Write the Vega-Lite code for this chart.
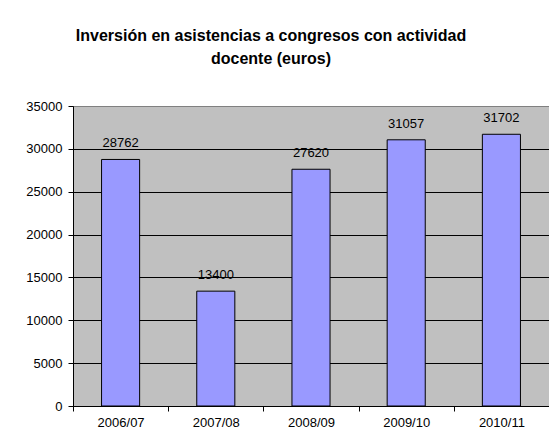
{
  "$schema": "https://vega.github.io/schema/vega-lite/v6.json",
  "autosize": {"type": "none"},
  "width": 476,
  "height": 300,
  "padding": {"left": 73, "top": 106, "right": 0, "bottom": 36},
  "background": "white",
  "title": {
    "text": ["Inversión en asistencias a congresos con actividad", "docente (euros)"],
    "font": "Liberation Sans",
    "fontSize": 16,
    "fontWeight": "bold",
    "color": "black",
    "anchor": "middle",
    "frame": "group",
    "dx": -40,
    "offset": 20,
    "lineHeight": 23,
    "baseline": "alphabetic"
  },
  "config": {
    "view": {"fill": "#C0C0C0", "stroke": "#808080", "strokeWidth": 1},
    "font": "Liberation Sans"
  },
  "data": {
    "values": [
      {"curso": "2006/07", "euros": 28762},
      {"curso": "2007/08", "euros": 13400},
      {"curso": "2008/09", "euros": 27620},
      {"curso": "2009/10", "euros": 31057},
      {"curso": "2010/11", "euros": 31702}
    ]
  },
  "encoding": {
    "x": {
      "field": "curso",
      "type": "nominal",
      "sort": null,
      "scale": {"paddingInner": 0, "paddingOuter": 0},
      "axis": {
        "title": null,
        "labelAngle": 0,
        "labelFont": "Liberation Sans",
        "labelFontSize": 13,
        "labelColor": "black",
        "labelPadding": 5,
        "tickBand": "extent",
        "tickColor": "black",
        "tickSize": 5,
        "domainColor": "black",
        "grid": false
      }
    },
    "y": {
      "field": "euros",
      "type": "quantitative",
      "scale": {"domain": [0, 35000], "nice": false},
      "axis": {
        "title": null,
        "values": [0, 5000, 10000, 15000, 20000, 25000, 30000, 35000],
        "format": "d",
        "labelFont": "Liberation Sans",
        "labelFontSize": 13,
        "labelColor": "black",
        "labelPadding": 6,
        "tickColor": "black",
        "tickSize": 5,
        "domainColor": "black",
        "grid": true,
        "gridColor": {"condition": {"test": "datum.value === 35000", "value": "#808080"}, "value": "black"},
        "gridOpacity": 1
      }
    }
  },
  "layer": [
    {
      "mark": {"type": "bar", "width": {"band": 0.4}, "fill": "#9999FF", "stroke": "black", "strokeWidth": 1}
    },
    {
      "mark": {"type": "text", "dy": -12, "baseline": "alphabetic", "font": "Liberation Sans", "fontSize": 13, "color": "black"},
      "encoding": {"text": {"field": "euros", "type": "quantitative", "format": "d"}}
    }
  ]
}
